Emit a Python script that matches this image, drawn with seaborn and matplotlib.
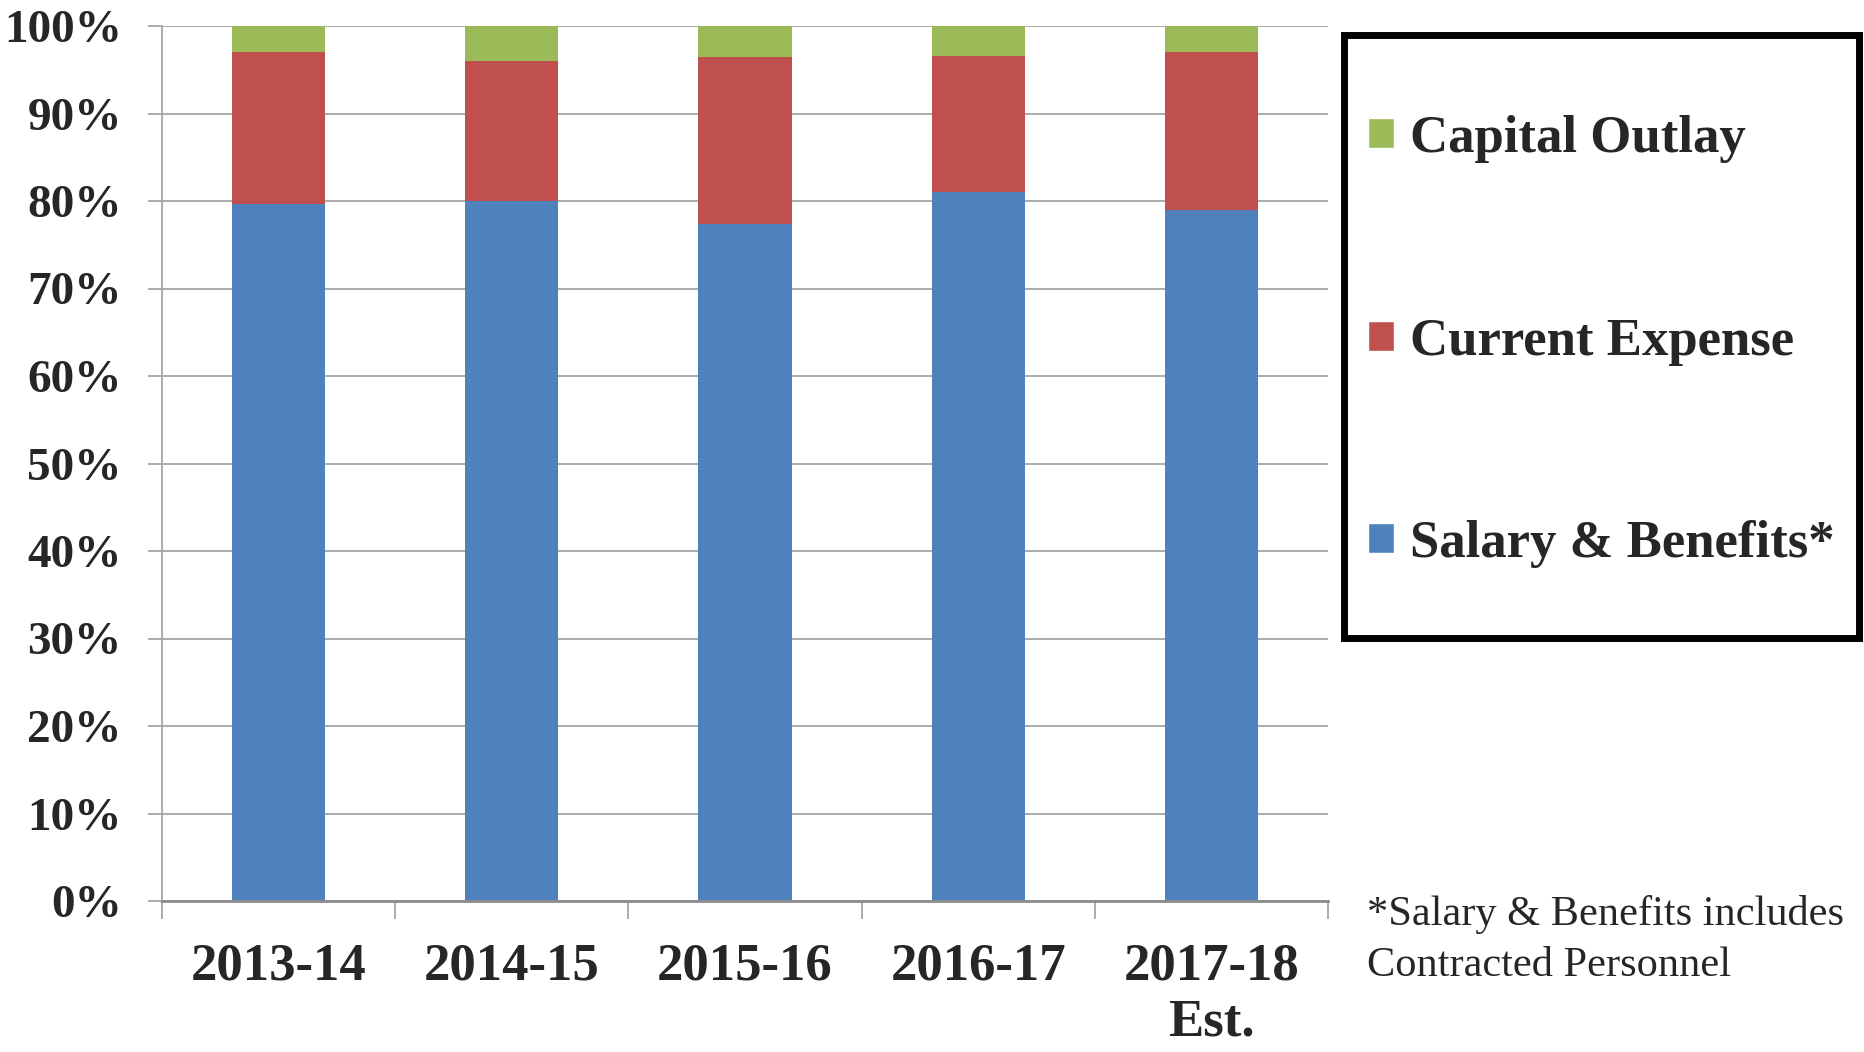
import pandas as pd
import seaborn as sns
import matplotlib.pyplot as plt
from matplotlib.patches import Patch, Rectangle

# Chart values (percent of total spending).
years = ["2013-14", "2014-15", "2015-16", "2016-17", "2017-18\nEst."]
salary_benefits = [79.7, 80.0, 77.4, 81.0, 79.0]
current_expense = [17.3, 16.0, 19.1, 15.6, 18.0]
capital_outlay = [3.0, 4.0, 3.5, 3.4, 3.0]
y_ticks = list(range(0, 101, 10))

blue = "#4F81BD"
red = "#C0504D"
green = "#9BBB59"
grey = "#A6A6A6"

sns.set_style("white")
plt.rcParams['font.family'] = ['Liberation Serif', 'DejaVu Serif']

# Build cumulative heights so the stacked bars can be layered tallest first.
df = pd.DataFrame({"year": years,
                   "salary": salary_benefits,
                   "current": current_expense,
                   "capital": capital_outlay})
df["salary_top"] = df["salary"]
df["current_top"] = df["salary"] + df["current"]
df["capital_top"] = df["current_top"] + df["capital"]

fig = plt.figure(figsize=(18.64, 10.52), dpi=100)
ax = fig.add_axes([162 / 1864, 1 - 901 / 1052, (1328 - 162) / 1864, (901 - 26) / 1052])

for col, colour in [("capital_top", green), ("current_top", red), ("salary_top", blue)]:
    sns.barplot(data=df, x="year", y=col, color=colour, width=0.4,
                saturation=1, linewidth=0, ax=ax)

ax.set_xlim(-0.5, 4.5)
ax.set_ylim(0, 100)
ax.set_yticks(y_ticks)
ax.set_yticklabels([f"{v}%" for v in y_ticks])
ax.set_xlabel("")
ax.set_ylabel("")

# Gridlines behind the bars.
ax.yaxis.grid(True, color=grey, linewidth=1.3)
ax.set_axisbelow(True)

# Spines: only left and bottom, in grey.
ax.spines['top'].set_visible(False)
ax.spines['right'].set_visible(False)
ax.spines['left'].set_color(grey)
ax.spines['bottom'].set_color("#8C8C8C")
ax.spines['left'].set_linewidth(1.3)
ax.spines['bottom'].set_linewidth(2)

# Tick styling: y ticks point left, x separators between categories.
ax.tick_params(axis='y', which='major', left=True, length=10, width=1.3,
               color=grey, pad=19, labelsize=34)
ax.tick_params(axis='x', which='major', bottom=False, length=0, pad=30, labelsize=38)
ax.set_xticks([i - 0.5 for i in range(len(years) + 1)], minor=True)
ax.tick_params(axis='x', which='minor', bottom=True, length=13, width=1.3, color=grey)
for label in ax.get_yticklabels() + ax.get_xticklabels():
    label.set_fontweight('bold')
for label in ax.get_xticklabels():
    label.set_linespacing(1.22)

# Legend without frame; the thick box is drawn separately.
handles = [Patch(facecolor=green, label="Capital Outlay"),
           Patch(facecolor=red, label="Current Expense"),
           Patch(facecolor=blue, label="Salary & Benefits*")]
fig.legend(handles=handles, loc='center left',
           bbox_to_anchor=(1368 / 1864, 1 - 341.5 / 1052),
           frameon=False, handlelength=0.5, handleheight=0.5,
           handletextpad=0.3, labelspacing=2.93, borderpad=0, borderaxespad=0,
           prop={'family': 'Liberation Serif', 'weight': 'bold', 'size': 38})

fig.patches.append(Rectangle((1344 / 1864, 1 - 638 / 1052), (1859 - 1344) / 1864,
                             (638 - 35) / 1052, transform=fig.transFigure,
                             fill=False, edgecolor="black", linewidth=5,
                             joinstyle='miter'))

# Footnote below the legend.
fig.text(1367 / 1864, 1 - 915 / 1052, "*Salary & Benefits includes",
         fontsize=30.5, va='center', ha='left')
fig.text(1367 / 1864, 1 - 966 / 1052, "Contracted Personnel",
         fontsize=30.5, va='center', ha='left')

plt.savefig("out.png", dpi=100)
